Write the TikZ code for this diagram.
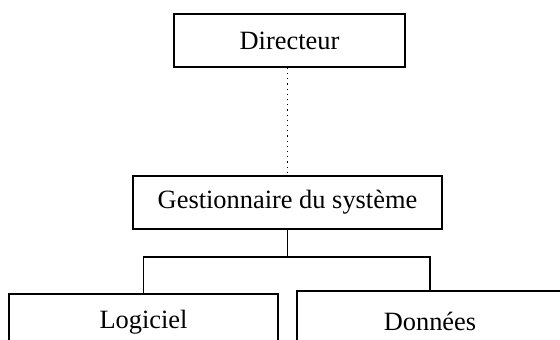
\documentclass[tikz,border=0pt]{standalone}
\usepackage{fontspec}
\setmainfont{Liberation Serif}
\begin{document}
\begin{tikzpicture}[x=0.5pt,y=-0.5pt,
  box/.style={draw,line width=0.8pt,inner sep=0pt,font=\fontsize{13.2}{15}\selectfont},
  link/.style={line width=0.8pt}]
\useasboundingbox (0,0) rectangle (560,340);
\clip (0,0) rectangle (560,340);
\node[box,minimum width=231*0.5pt,minimum height=53*0.5pt] (dir) at (289.5,40.5) {Directeur};
\node[box,minimum width=309*0.5pt,minimum height=53*0.5pt] (gest) at (287.5,202.5) {Gestionnaire du syst\`eme};
\node[box,minimum width=269*0.5pt,minimum height=56*0.5pt] (log) at (143.5,322) {Logiciel};
\node[box,minimum width=266*0.5pt,minimum height=60*0.5pt] (don) at (430,321) {Donn\'ees};
\coordinate (j) at (287.5,257);
\draw[dotted,line width=0.6pt] (gest.north |- dir.south) -- (gest.north);
\draw[link] (gest.south) -- (j);
\draw[link] (log.north) -- (log.north |- j) -- (don.north |- j) -- (don.north);
\end{tikzpicture}
\end{document}
